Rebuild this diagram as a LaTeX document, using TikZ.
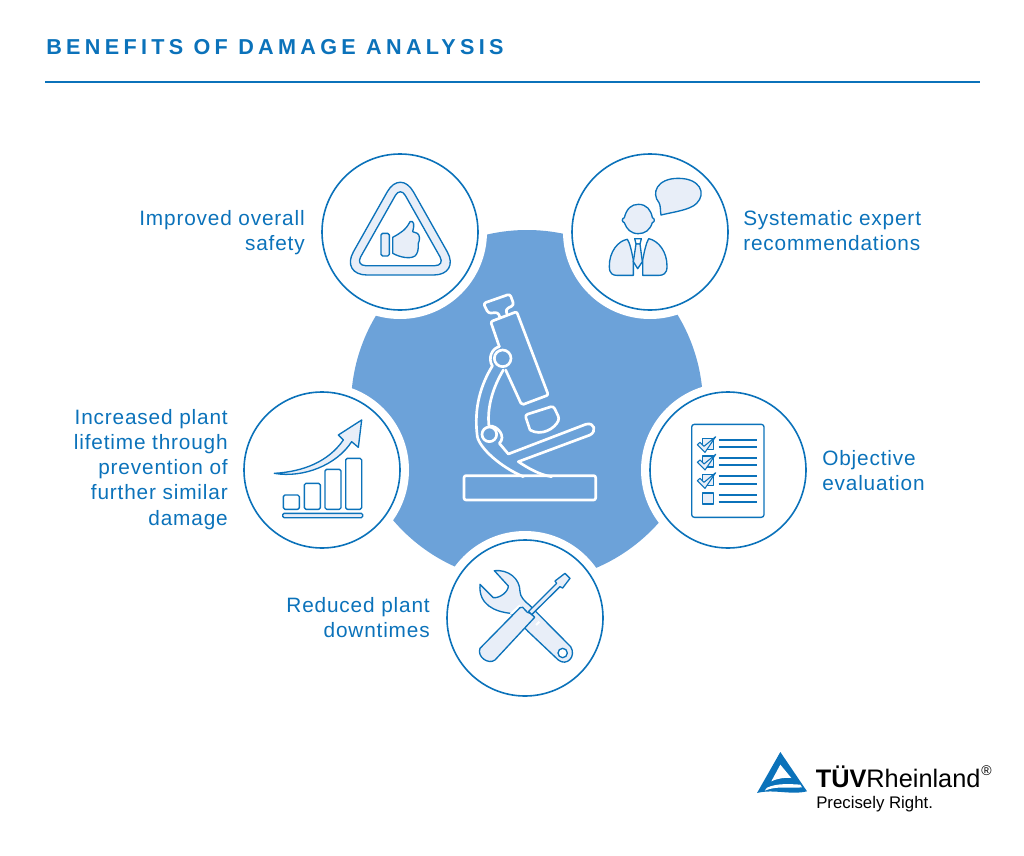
\documentclass[tikz,border=0pt]{standalone}
\usepackage{fontspec}
\setmainfont{Liberation Sans}
\newfontfamily\labelfont[LetterSpace=4]{Liberation Sans}
\newfontfamily\titlefont[LetterSpace=20]{Liberation Sans}
\definecolor{tuvblue}{HTML}{0B72BA}
\definecolor{blobblue}{HTML}{6CA2D9}
\definecolor{palefill}{HTML}{E8EEF8}
\tikzset{
	iconcircle/.style={draw=tuvblue, line width=1.2pt, fill=white, circle, minimum size=117pt, inner sep=0pt},
	haloc/.style={fill=white},
	iconline/.style={draw=tuvblue, line width=1pt, fill=palefill, line join=round},
	iconplain/.style={draw=tuvblue, line width=1pt, fill=white, line join=round},
	scopeline/.style={draw=white, line width=2pt, line cap=round, line join=round},
	sidelabel/.style={text=tuvblue, font=\fontsize{15.6}{18.8}\selectfont\labelfont, inner sep=0pt},
}
\begin{document}
\begin{tikzpicture}[x=0.75pt, y=-0.75pt]
	\useasboundingbox (0, 0) rectangle (1024, 856);
	
	%%%%% title
	\node[anchor=west, inner sep=0pt, text=tuvblue, font=\fontsize{16.2}{18}\selectfont\bfseries\titlefont] (title) at (46, 47) {BENEFITS OF DAMAGE ANALYSIS};
	\coordinate (ruleleft) at (45, 82);
	\coordinate (ruleright) at (980, 82);
	\draw[tuvblue, line width=1pt] (ruleleft) -- (ruleright);
	
	%%%%% central disc
	\fill[blobblue] (527, 406) circle (176);
	\foreach \cx/\cy in {400/232, 650/232, 322/470, 728/470, 525/618}
		\fill[haloc] (\cx, \cy) circle (87);
	
	\node[iconcircle] (safety) at (400, 232) {};
	\node[iconcircle] (expert) at (650, 232) {};
	\node[iconcircle] (lifetime) at (322, 470) {};
	\node[iconcircle] (evaluation) at (728, 470) {};
	\node[iconcircle] (downtime) at (525, 618) {};
	
	%%%%% microscope
	\begin{scope}[shift={(440, 280)}, scale=1/3]
		\draw[scopeline, rounded corners=1.5pt] (72, 587) rectangle (467, 660);
		\draw[scopeline, rounded corners=1.5pt] (178, 200) -- (152, 125) -- (230, 95) -- (325, 345) -- (245, 375) -- (197, 270);
		\draw[scopeline, rounded corners=2pt] (180, 113) -- (174, 97) -- (145, 100) -- (130, 70) -- (210, 42) -- (222, 75) -- (197, 88) -- (201, 102);
		\draw[scopeline] (188, 235) circle (25);
		\draw[scopeline] (148, 463) circle (22);
		\draw[scopeline] (178, 200) .. controls (155, 205) and (143, 235) .. (157, 258);
		\draw[scopeline] (157, 258) .. controls (125, 310) and (100, 380) .. (112, 470) .. controls (120, 505) and (180, 560) .. (250, 590);
		\draw[scopeline] (190, 270) .. controls (160, 320) and (140, 380) .. (147, 440);
		\draw[scopeline] (147, 438) .. controls (172, 435) and (200, 470) .. (178, 490) -- (205, 522) -- (437, 433) .. controls (465, 425) and (470, 455) .. (450, 465) -- (235, 545) .. controls (265, 565) and (300, 585) .. (335, 590);
		\draw[scopeline, rounded corners=2pt] (270, 450) -- (255, 405) -- (340, 378) -- (358, 415) .. controls (345, 445) and (305, 470) .. (270, 450);
	\end{scope}
	
	%%%%% triangle with thumb
	\begin{scope}[shift={(320, 150)}, scale=1/3]
		\draw[iconline, even odd rule] [rounded corners=20pt] (241, 56) -- (61, 375) -- (421, 375) -- cycle
			[rounded corners=7.5pt] (241, 110) -- (107, 347) -- (375, 347) -- cycle;
		\draw[iconline, rounded corners=1.2pt] (183, 250) rectangle (208, 318);
		\draw[iconline] (218, 262) .. controls (240, 250) and (258, 240) .. (270, 215) .. controls (282, 210) and (284, 225) .. (278, 245) -- (292, 250) .. controls (300, 255) and (300, 270) .. (295, 280) .. controls (296, 300) and (292, 312) .. (285, 318) .. controls (270, 328) and (240, 322) .. (218, 310) -- cycle;
	\end{scope}
	
	%%%%% expert
	\begin{scope}[shift={(565, 150)}, scale=1/3]
		\draw[iconline] (288, 195) .. controls (285, 180) and (288, 170) .. (282, 158) .. controls (258, 130) and (275, 85) .. (340, 85) .. controls (405, 85) and (425, 130) .. (395, 160) .. controls (375, 180) and (330, 185) .. (288, 195) -- cycle;
		\draw[iconline] (178, 203) .. controls (185, 175) and (200, 163) .. (220, 163) .. controls (245, 163) and (258, 180) .. (262, 203) .. controls (270, 205) and (270, 216) .. (262, 218) .. controls (255, 240) and (240, 251) .. (220, 251) .. controls (198, 251) and (185, 238) .. (178, 218) .. controls (170, 216) and (170, 205) .. (178, 203) -- cycle;
		\draw[iconline] (205, 376) -- (205, 330) .. controls (200, 305) and (195, 280) .. (187, 268) .. controls (160, 272) and (132, 305) .. (133, 350) .. controls (133, 372) and (145, 376) .. (155, 376) -- cycle;
		\draw[iconline] (233, 376) -- (233, 330) .. controls (238, 305) and (243, 280) .. (251, 266) .. controls (280, 272) and (307, 305) .. (306, 350) .. controls (306, 372) and (293, 376) .. (283, 376) -- cycle;
		\draw[iconline, fill=white] (209, 266) -- (229, 266) -- (225, 282) -- (213, 282) -- cycle;
		\draw[iconline] (213, 282) -- (205, 335) -- (218, 356) -- (232, 335) -- (225, 282) -- cycle;
	\end{scope}
	
	%%%%% chart
	\begin{scope}[shift={(240, 390)}, scale=1/3]
		\draw[iconline] (103, 250) .. controls (190, 245) and (265, 215) .. (310, 150) -- (295, 135) -- (365, 90) -- (355, 172) -- (335, 155) .. controls (290, 225) and (190, 265) .. (103, 250) -- cycle;
		\foreach \xa/\ya/\xb in {130/315/178, 193/280/241, 255/238/303, 317/205/365}
			\draw[iconplain, rounded corners=1.2pt] (\xa, \ya) rectangle (\xb, 358);
		\draw[iconline, rounded corners=1pt] (128, 370) rectangle (368, 383);
	\end{scope}
	
	%%%%% checklist
	\begin{scope}[shift={(645, 390)}, scale=1/3]
		\draw[iconplain, rounded corners=2pt] (140, 103) rectangle (357, 382);
		\foreach \ly in {149, 171, 204, 226, 259, 281, 314, 336}
			\draw[tuvblue, line width=1.3pt] (221, \ly) -- (336, \ly);
		\foreach \by in {145, 198, 253}{
			\draw[iconline, line width=0.8pt] (172, \by) rectangle (205, \by+33);
			\draw[iconline, line width=0.8pt] (157, \by+19) -- (165, \by+12) -- (177, \by+24) -- (212, \by-5) -- (180, \by+42) -- cycle;
		}
		\draw[iconline, line width=0.8pt] (172, 309) rectangle (205, 342);
	\end{scope}
	
	%%%%% tools
	\begin{scope}[shift={(440, 530)}, scale=1/3]
		\draw[iconline, even odd rule] (163, 122) .. controls (205, 118) and (240, 145) .. (240, 185) .. controls (240, 200) and (255, 215) .. (268, 225) -- (392, 350) .. controls (410, 380) and (380, 410) .. (355, 390) -- (265, 305) -- (212, 250) .. controls (165, 245) and (115, 225) .. (120, 163) -- (160, 203) .. controls (180, 205) and (205, 185) .. (205, 168) -- cycle
			(382, 369) arc[start angle=0, end angle=360, radius=14];
		\draw[white, line width=1.6pt] (212, 252) -- (240, 226);
		\draw[white, line width=1.6pt] (288, 285) -- (298, 275);
		\draw[iconline] (120, 355) -- (240, 233) -- (248, 232) -- (262, 247) -- (272, 250) -- (284, 262) -- (165, 390) .. controls (145, 405) and (110, 380) .. (120, 355) -- cycle;
		\draw[iconline] (266, 244) -- (350, 160) -- (345, 153) -- (375, 130) -- (390, 145) -- (368, 174) -- (360, 170) -- (275, 254) -- cycle;
	\end{scope}
	
	%%%%% side labels
	\node[sidelabel, align=right, anchor=east] (safetytext) at (305, 232.5) {Improved overall\\safety};
	\node[sidelabel, align=left, anchor=west] (experttext) at (743, 230.5) {Systematic expert\\recommendations};
	\node[sidelabel, align=right, anchor=east] (lifetimetext) at (228, 469.5) {Increased plant\\lifetime through\\prevention of\\further similar\\damage};
	\node[sidelabel, align=left, anchor=west] (evaluationtext) at (822, 470.5) {Objective\\evaluation};
	\node[sidelabel, align=right, anchor=east] (downtimetext) at (430, 617.5) {Reduced plant\\downtimes};
	
	%%%%% logo
	\begin{scope}[shift={(752, 748)}, scale=1/3]
		\fill[tuvblue] (85, 12) -- (15, 135) .. controls (65, 122) and (115, 142) .. (165, 130) -- cycle;
		\fill[white] (85, 50) -- (58, 100) .. controls (80, 90) and (100, 88) .. (118, 90) -- cycle;
		\fill[white] (45, 119) .. controls (75, 105) and (115, 108) .. (145, 110) -- (150, 118) .. controls (115, 122) and (75, 112) .. (38, 128) -- cycle;
	\end{scope}
	\node[anchor=west, inner sep=0pt, font=\fontsize{19}{20}\selectfont] (logoname) at (815.5, 776.5) {\textbf{TÜV}Rheinland};
	\node[anchor=west, inner sep=0pt, font=\fontsize{10.5}{11}\selectfont] (logomark) at (981, 771) {®};
	\node[anchor=west, inner sep=0pt, font=\fontsize{12.6}{13}\selectfont] (logoclaim) at (816, 804) {Precisely Right.};
\end{tikzpicture}
\end{document}
